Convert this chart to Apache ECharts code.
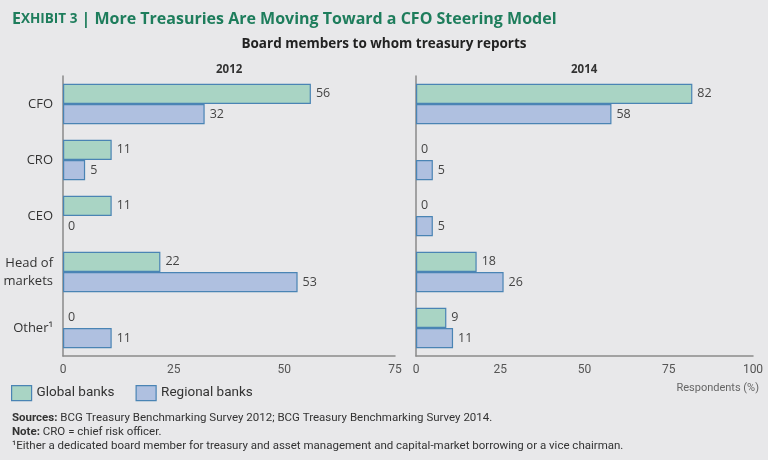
<!DOCTYPE html>
<html><head><meta charset="utf-8">
<script src="https://cdn.jsdelivr.net/npm/echarts@6/dist/echarts.min.js"></script>
<style>html,body{margin:0;padding:0;background:#e8e8ea;}#c{width:768px;height:460px;}</style>
</head><body><div id="c"></div>
<script>
var categories = ['CFO', 'CRO', 'CEO', 'Head of\nmarkets', 'Other\u00b9'];
var global2012 = [56, 11, 11, 22, 0];
var regional2012 = [32, 5, 0, 53, 11];
var global2014 = [82, 0, 0, 18, 9];
var regional2014 = [58, 5, 5, 26, 11];
var ticks2012 = [0, 25, 50, 75];
var ticks2014 = [0, 25, 50, 75, 100];
var seriesNames = ['Global banks', 'Regional banks'];

var GREEN = '#a9d4c4', BLUE = '#afc0e0', EDGE = '#4a84b4';
var AXIS = '#8a8a8a';
var FONT = '"Open Sans", "Noto Sans", sans-serif';
var NARROW = '"Roboto", sans-serif';

function mk(vals) {
  return vals.map(function (v) {
    return v === 0 ? { value: v, itemStyle: { borderWidth: 0 } } : v;
  });
}
function bar(name, vals, fill, idx) {
  return {
    type: 'bar', name: name, xAxisIndex: idx, yAxisIndex: idx,
    data: mk(vals), barGap: '0%', barCategoryGap: '28%',
    itemStyle: { color: fill, borderColor: EDGE, borderWidth: 1.2 },
    label: { show: true, position: 'right', distance: 5, color: '#444', fontSize: 12.5, fontFamily: FONT },
    animation: false
  };
}
function xAx(idx, ticks) {
  return {
    type: 'value', gridIndex: idx, min: ticks[0], max: ticks[ticks.length - 1], interval: 25,
    axisLine: { show: true, lineStyle: { color: AXIS, width: 1.5 } },
    axisTick: { show: false }, splitLine: { show: false },
    axisLabel: { color: '#555', fontSize: 12, fontFamily: NARROW, margin: 8 }
  };
}
function yAx(idx, showLabels) {
  return {
    type: 'category', gridIndex: idx, data: categories, inverse: true,
    axisLine: { show: true, lineStyle: { color: AXIS, width: 1.5 } },
    axisTick: { show: false },
    axisLabel: { show: showLabels, color: '#333', fontSize: 13, fontFamily: FONT, margin: 10, lineHeight: 18 }
  };
}

var chart = echarts.init(document.getElementById('c'));
chart.setOption({
  backgroundColor: '#e8e8ea',
  animation: false,
  grid: [
    { left: 63, top: 76, width: 332, height: 280 },
    { left: 416, top: 76, width: 337, height: 280 }
  ],
  xAxis: [xAx(0, ticks2012), xAx(1, ticks2014)],
  yAxis: [yAx(0, true), yAx(1, false)],
  legend: {
    data: seriesNames, left: 11, top: 385, padding: 0, itemWidth: 20, itemHeight: 15, itemGap: 21, icon: 'rect',
    textStyle: { color: '#333', fontSize: 13.5, fontFamily: NARROW },
    itemStyle: { borderColor: EDGE, borderWidth: 1.2 }
  },
  series: [
    bar(seriesNames[0], global2012, GREEN, 0),
    bar(seriesNames[1], regional2012, BLUE, 0),
    bar(seriesNames[0], global2014, GREEN, 1),
    bar(seriesNames[1], regional2014, BLUE, 1)
  ],
  graphic: [
    { type: 'text', left: 12, top: 11, style: {
      text: '{a|E}{b|XHIBIT 3}{c| | More Treasuries Are Moving Toward a CFO Steering Model}',
      rich: {
        a: { fontSize: 16, fontWeight: 'bold', fill: '#1e7d5c', fontFamily: FONT },
        b: { fontSize: 13.5, fontWeight: 'bold', fill: '#1e7d5c', fontFamily: FONT },
        c: { fontSize: 16, fontWeight: 'bold', fill: '#1e7d5c', fontFamily: FONT }
      } } },
    { type: 'text', left: 'center', top: 37, style: {
      text: 'Board members to whom treasury reports', fontSize: 13.5, fontWeight: 'bold', fill: '#222', fontFamily: FONT } },
    { type: 'text', left: 216, top: 64, style: { text: '2012', fontSize: 11.5, fontWeight: 'bold', fill: '#333', fontFamily: FONT } },
    { type: 'text', left: 571, top: 64, style: { text: '2014', fontSize: 11.5, fontWeight: 'bold', fill: '#333', fontFamily: FONT } },
    { type: 'text', right: 9, top: 383, style: { text: 'Respondents (%)', fontSize: 11, fill: '#666', fontFamily: NARROW } },
    { type: 'text', left: 12, top: 412, style: {
      text: '{b|Sources:} BCG Treasury Benchmarking Survey 2012; BCG Treasury Benchmarking Survey 2014.',
      fontSize: 11.5, fill: '#333', fontFamily: NARROW,
      rich: { b: { fontWeight: 'bold', fontSize: 11.5, fill: '#333', fontFamily: NARROW } } } },
    { type: 'text', left: 12, top: 426, style: {
      text: '{b|Note:} CRO = chief risk officer.',
      fontSize: 11.5, fill: '#333', fontFamily: NARROW,
      rich: { b: { fontWeight: 'bold', fontSize: 11.5, fill: '#333', fontFamily: NARROW } } } },
    { type: 'text', left: 12, top: 440, style: {
      text: '\u00b9Either a dedicated board member for treasury and asset management and capital-market borrowing or a vice chairman.',
      fontSize: 11.5, fill: '#333', fontFamily: NARROW } }
  ]
});
</script></body></html>
